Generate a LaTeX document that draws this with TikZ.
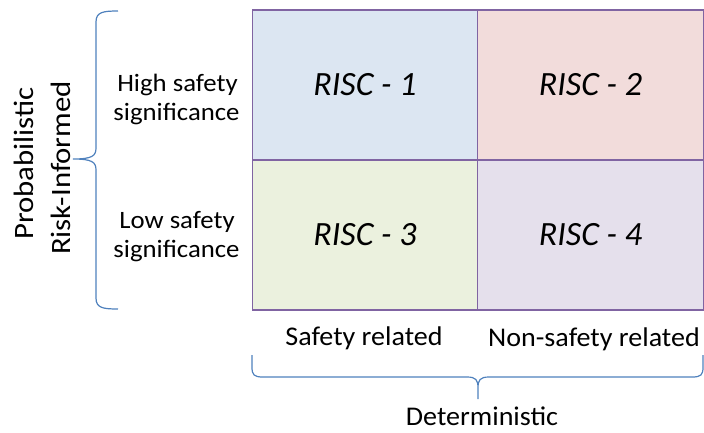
\documentclass[tikz,border=0pt]{standalone}
\usepackage{fontspec}
\setmainfont{Carlito}
\newfontfamily\sidefont[FakeStretch=1.07]{Carlito}
\newfontfamily\bottomfont[FakeStretch=1.04]{Carlito}
\newfontfamily\rotfont[FakeStretch=1.1]{Carlito}
\definecolor{gridline}{HTML}{8064A2}
\definecolor{bracecol}{HTML}{4F81BD}
\definecolor{fillA}{HTML}{DCE6F2}
\definecolor{fillB}{HTML}{F2DCDB}
\definecolor{fillC}{HTML}{EBF1DE}
\definecolor{fillD}{HTML}{E5E0EC}
\begin{document}
\begin{tikzpicture}[x=1pt,y=-1pt,
  cell/.style={draw=gridline, line width=1.1pt, minimum width=225.5pt, minimum height=150pt,
    inner sep=0pt, font=\fontsize{34}{40}\selectfont\itshape},
  sidelbl/.style={anchor=base, inner sep=0pt, font=\sidefont\fontsize{25}{30}\selectfont},
  botlbl/.style={anchor=base, inner sep=0pt, font=\bottomfont\fontsize{27}{32}\selectfont},
  rotlbl/.style={anchor=base, rotate=90, inner sep=0pt, font=\rotfont\fontsize{28}{34}\selectfont},
  bracestyle/.style={draw=bracecol, line width=1.2pt}]
\useasboundingbox (0,0) rectangle (704,432);
\node[cell, fill=fillA] (r1) at (365,85) {RISC - 1};
\node[cell, fill=fillB] (r2) at (590.5,85) {RISC - 2};
\node[cell, fill=fillC] (r3) at (365,235) {RISC - 3};
\node[cell, fill=fillD] (r4) at (590.5,235) {RISC - 4};
\node[sidelbl] (high1) at (177.5,91) {High safety};
\node[sidelbl] (high2) at (176.5,120) {significance};
\node[sidelbl] (low1) at (177,228) {Low safety};
\node[sidelbl] (low2) at (176.5,257) {significance};
\node[rotlbl] (prob) at (33,163.5) {Probabilistic};
\node[rotlbl] (risk) at (70,168) {Risk-Informed};
\node[botlbl] (sr) at (364,345) {Safety related};
\node[botlbl] (nsr) at (594,346) {Non-safety related};
\node[botlbl] (det) at (482,425) {Deterministic};
% left brace
\path[bracestyle] (118,11) .. controls (103,11) and (96,12) .. (96,22) -- (96,148)
  .. controls (96,156) and (92,159) .. (73,159)
  .. controls (92,159) and (96,162) .. (96,170) -- (96,298)
  .. controls (96,308) and (103,309) .. (118,309);
% bottom brace
\path[bracestyle] (252,355) -- (252,367) .. controls (252,375) and (254,377) .. (263,377) -- (467,377)
  .. controls (476,377) and (478,380) .. (478,388) -- (478,399)
  (478,388) .. controls (478,380) and (480,377) .. (489,377) -- (692,377)
  .. controls (701,377) and (703,375) .. (703,367) -- (703,355);
\end{tikzpicture}
\end{document}
